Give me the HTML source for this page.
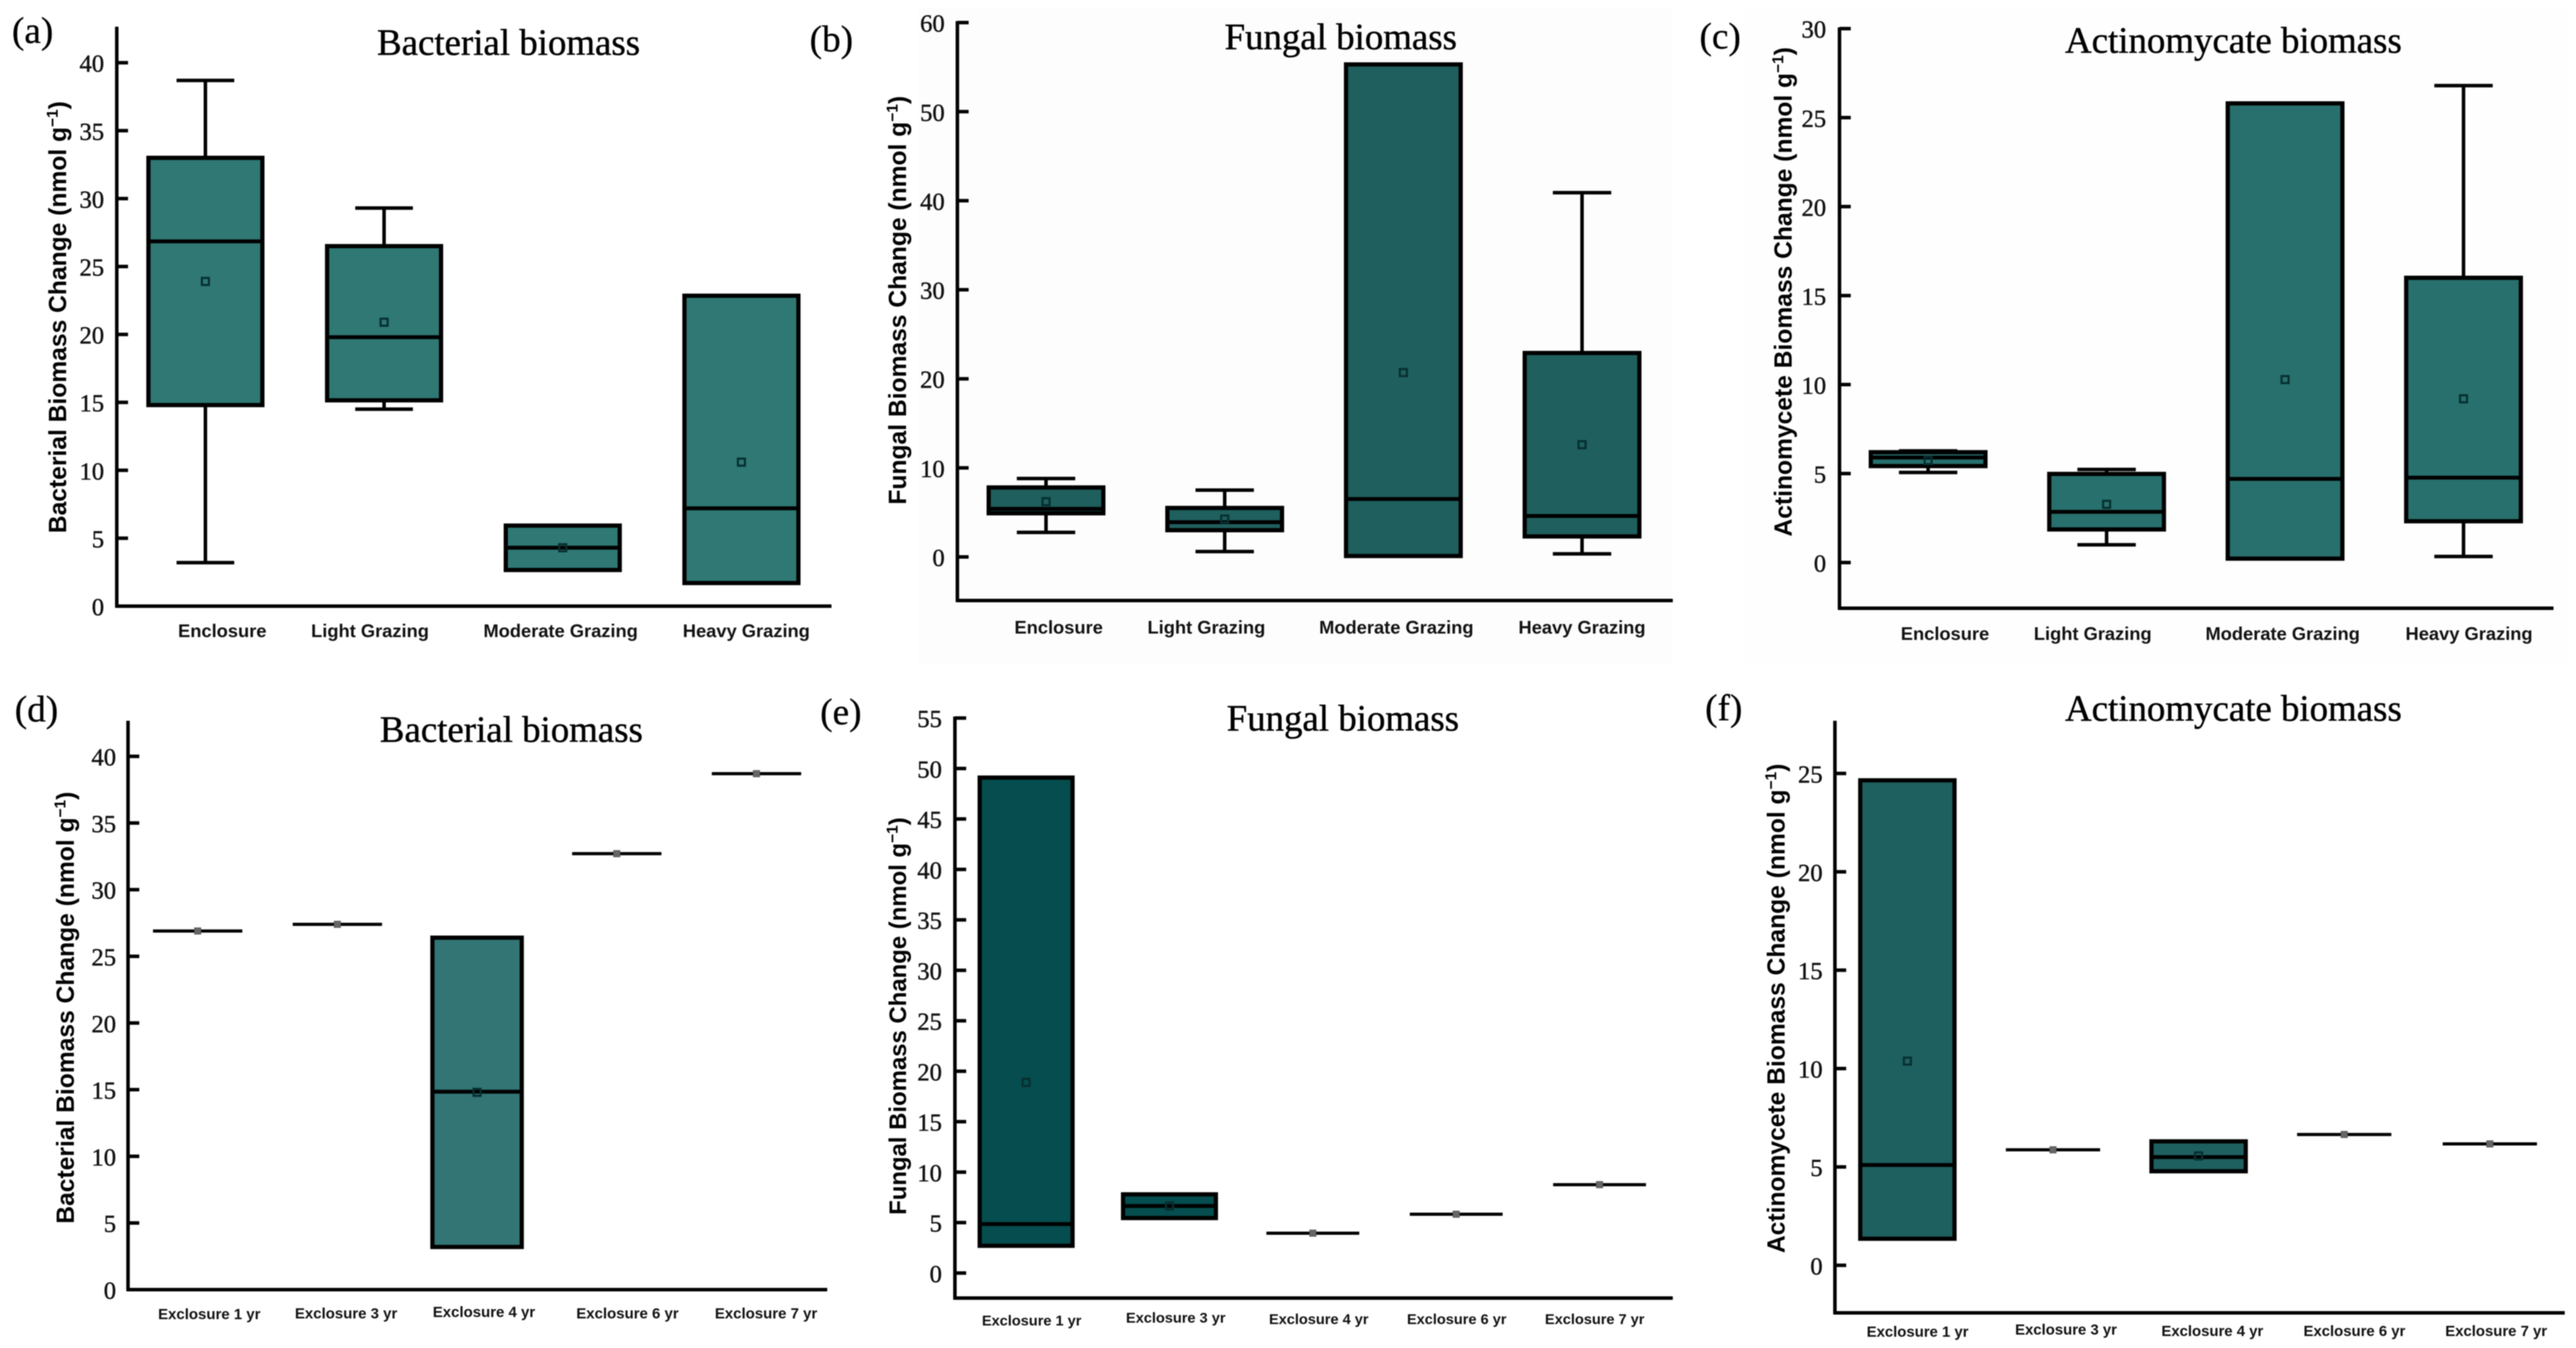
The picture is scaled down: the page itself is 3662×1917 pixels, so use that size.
<!DOCTYPE html>
<html lang="en">
<head>
<meta charset="utf-8">
<title>Soil microbial biomass change under grazing and exclosure</title>
<style>
  html, body { margin: 0; padding: 0; background: #fff; }
  #figure { display: block; width: 3662px; height: 1917px; filter: blur(0.7px); }
  .panel-letter { font-family: "Liberation Serif", serif; font-size: 53px; fill: #000; stroke: #000; stroke-width: 0.4px; }
  .panel-title { font-family: "Liberation Serif", serif; font-size: 52.4px; fill: #000; text-anchor: middle; stroke: #000; stroke-width: 0.6px; }
  .y-title { font-family: "Liberation Sans", sans-serif; font-weight: bold; font-size: 35px; fill: #000; text-anchor: middle; }
  .y-tick-label { font-family: "Liberation Serif", serif; font-size: 35px; fill: #111; text-anchor: end; stroke: #111; stroke-width: 0.6px; }
  .x-label { font-family: "Liberation Sans", sans-serif; font-weight: bold; fill: #111; text-anchor: middle; }
</style>
</head>
<body>
<svg id="figure" xmlns="http://www.w3.org/2000/svg" width="3662" height="1917" viewBox="0 0 3662 1917">
  <rect width="3662" height="1917" fill="#ffffff"/>
  <rect x="1306" y="10" width="1072" height="935" fill="#fdfdfd"/>
  <rect x="2480" y="10" width="1170" height="935" fill="#fdfefd"/>

  <g id="panel-a">
    <text class="panel-letter" x="17" y="61">(a)</text>
    <text class="panel-title" x="723" y="78">Bacterial biomass</text>
    <text class="y-title" transform="translate(94 451) rotate(-90)">Bacterial Biomass Change (nmol g<tspan font-size="22" dy="-12">−1</tspan><tspan dy="12">)</tspan></text>
  </g>
  <g id="panel-b">
    <text class="panel-letter" x="1151" y="73">(b)</text>
    <text class="panel-title" x="1906" y="70">Fungal biomass</text>
    <text class="y-title" transform="translate(1288 427) rotate(-90)">Fungal Biomass Change  (nmol g<tspan font-size="22" dy="-12">−1</tspan><tspan dy="12">)</tspan></text>
  </g>
  <g id="panel-c">
    <text class="panel-letter" x="2416" y="69">(c)</text>
    <text class="panel-title" x="3175" y="75">Actinomycate biomass</text>
    <text class="y-title" transform="translate(2547 415) rotate(-90)">Actinomycete Biomass Change (nmol g<tspan font-size="22" dy="-12">−1</tspan><tspan dy="12">)</tspan></text>
  </g>
  <g id="panel-d">
    <text class="panel-letter" x="21" y="1026">(d)</text>
    <text class="panel-title" x="727" y="1055">Bacterial biomass</text>
    <text class="y-title" transform="translate(105 1433) rotate(-90)">Bacterial Biomass Change (nmol g<tspan font-size="22" dy="-12">−1</tspan><tspan dy="12">)</tspan></text>
  </g>
  <g id="panel-e">
    <text class="panel-letter" x="1166" y="1030">(e)</text>
    <text class="panel-title" x="1909" y="1039">Fungal biomass</text>
    <text class="y-title" style="font-size:34px" transform="translate(1288 1445) rotate(-90)">Fungal Biomass Change (nmol g<tspan font-size="22" dy="-12">−1</tspan><tspan dy="12">)</tspan></text>
  </g>
  <g id="panel-f">
    <text class="panel-letter" x="2424" y="1024">(f)</text>
    <text class="panel-title" x="3175" y="1025">Actinomycate biomass</text>
    <text class="y-title" transform="translate(2537 1434) rotate(-90)">Actinomycete Biomass Change (nmol g<tspan font-size="22" dy="-12">−1</tspan><tspan dy="12">)</tspan></text>
  </g>
</svg>
<script>
// ---- Chart data ----
const grazingCategories = ['Enclosure', 'Light Grazing', 'Moderate Grazing', 'Heavy Grazing'];
const exclosureCategories = ['Exclosure 1 yr', 'Exclosure 3 yr', 'Exclosure 4 yr', 'Exclosure 6 yr', 'Exclosure 7 yr'];

const aTicks = [0, 5, 10, 15, 20, 25, 30, 35, 40];
const aWhiskerHigh = [38.7, 29.3, 5.93, 22.85];
const aQ3 = [33.0, 26.5, 5.93, 22.85];
const aMedian = [26.85, 19.8, 4.3, 7.2];
const aQ1 = [14.8, 15.15, 2.66, 1.7];
const aWhiskerLow = [3.2, 14.5, 2.66, 1.7];
const aMean = [23.9, 20.9, 4.3, 10.6];

const bTicks = [0, 10, 20, 30, 40, 50, 60];
const bWhiskerHigh = [8.8, 7.5, 55.3, 40.9];
const bQ3 = [7.8, 5.5, 55.3, 22.9];
const bMedian = [5.4, 3.9, 6.5, 4.6];
const bQ1 = [4.9, 3.0, 0.1, 2.3];
const bWhiskerLow = [2.75, 0.6, 0.1, 0.35];
const bMean = [6.2, 4.25, 20.7, 12.6];

const cTicks = [0, 5, 10, 15, 20, 25, 30];
const cWhiskerHigh = [6.27, 5.23, 25.8, 26.8];
const cQ3 = [6.2, 4.98, 25.8, 16.0];
const cMedian = [5.9, 2.85, 4.7, 4.77];
const cQ1 = [5.42, 1.86, 0.22, 2.32];
const cWhiskerLow = [5.06, 1.0, 0.22, 0.34];
const cMean = [5.73, 3.27, 10.28, 9.2];

const dTicks = [0, 5, 10, 15, 20, 25, 30, 35, 40];
const dQ3 = [26.9, 27.4, 26.4, 32.7, 38.7];
const dMedian = [26.9, 27.4, 14.85, 32.7, 38.7];
const dQ1 = [26.9, 27.4, 3.2, 32.7, 38.7];
const dMean = [26.9, 27.4, 14.8, 32.7, 38.7];

const eTicks = [0, 5, 10, 15, 20, 25, 30, 35, 40, 45, 50, 55];
const eQ3 = [49.1, 7.8, 3.95, 5.83, 8.76];
const eMedian = [4.85, 6.65, 3.95, 5.83, 8.76];
const eQ1 = [2.7, 5.45, 3.95, 5.83, 8.76];
const eMean = [18.9, 6.65, 3.95, 5.83, 8.76];

const fTicks = [0, 5, 10, 15, 20, 25];
const fQ3 = [24.65, 5.87, 6.3, 6.65, 6.17];
const fMedian = [5.1, 5.87, 5.5, 6.65, 6.17];
const fQ1 = [1.35, 5.87, 4.78, 6.65, 6.17];
const fMean = [10.38, 5.87, 5.56, 6.65, 6.17];

const SVG_NS = 'http://www.w3.org/2000/svg';

function shape(parent, tag, attrs) {
  const node = document.createElementNS(SVG_NS, tag);
  for (const key in attrs) node.setAttribute(key, attrs[key]);
  parent.appendChild(node);
  return node;
}

function strokeLine(parent, x1, y1, x2, y2, width) {
  return shape(parent, 'line', { x1: x1, y1: y1, x2: x2, y2: y2, stroke: '#000', 'stroke-width': width });
}

function drawPanel(p) {
  const root = document.getElementById('panel-' + p.id);
  // Axis functions: value -> pixel and category index -> pixel
  const yScale = v => p.y0 - (v - p.v0) * p.pxPerUnit;
  const xScale = i => p.firstX + i * p.stepX;
  const halfBox = p.boxWidth / 2;
  const halfCap = p.capWidth / 2;

  const axisY = strokeLine(root, p.axisX, p.axisTop - 2, p.axisX, p.axisBottom + 2, 5);
  
  
  const axisX = strokeLine(root, p.axisX - 2, p.axisBottom, p.axisRight, p.axisBottom, 5);
  
  

  p.ticks.forEach(t => {
    const y = yScale(t);
    const tick = strokeLine(root, p.axisX, y, p.axisX + 16, y, 5);
    
    
    const label = shape(root, 'text', { class: 'y-tick-label', x: p.tickRight, y: y + 13 });
    label.textContent = String(t);
    
    
  });

  p.categories.forEach((cat, i) => {
    const cx = xScale(i);
    const slug = cat.toLowerCase().replace(/\s+/g, '-');
    const group = shape(root, 'g', {});
    
    

    const q3 = yScale(p.q3[i]);
    const q1 = yScale(p.q1[i]);
    const med = yScale(p.median[i]);
    const flat = p.q3[i] === p.q1[i];

    if (p.whiskerHigh && p.whiskerHigh[i] > p.q3[i]) {
      const top = yScale(p.whiskerHigh[i]);
      const stem = strokeLine(group, cx, top, cx, q3, 5);
      
      
      const cap = strokeLine(group, cx - halfCap, top, cx + halfCap, top, 5);
      
      
    }
    if (p.whiskerLow && p.whiskerLow[i] < p.q1[i]) {
      const low = yScale(p.whiskerLow[i]);
      const stem = strokeLine(group, cx, q1, cx, low, 5);
      
      
      const cap = strokeLine(group, cx - halfCap, low, cx + halfCap, low, 5);
      
      
    }
    if (!flat) {
      const box = shape(group, 'rect', {
        x: cx - halfBox, y: q3, width: p.boxWidth, height: q1 - q3,
        fill: p.fill, stroke: '#000', 'stroke-width': 6
      });
      
      
    }
    const medianLine = strokeLine(group, cx - halfBox, med, cx + halfBox, med, flat ? 4.5 : 5.5);
    
    

    const size = flat ? 9 : 10;
    const mean = shape(group, 'rect', {
      x: cx - size / 2, y: yScale(p.mean[i]) - size / 2, width: size, height: size,
      fill: flat ? '#666' : 'none', stroke: flat ? '#555' : '#062f30', 'stroke-width': flat ? 1 : 3
    });
    
    

    const xLabel = shape(root, 'text', {
      class: 'x-label', x: p.labelX[i], y: p.labelBaseline + p.labelDrop[i], 'font-size': p.labelSize
    });
    xLabel.textContent = cat;
    
    
  });
}

// ---- Layout (pixels) and data wiring for each panel ----
drawPanel({
  id: 'a', categories: grazingCategories, ticks: aTicks,
  whiskerHigh: aWhiskerHigh, q3: aQ3, median: aMedian, q1: aQ1, whiskerLow: aWhiskerLow, mean: aMean,
  axisX: 166, axisTop: 40, axisBottom: 862, axisRight: 1182, tickRight: 148,
  v0: 0, y0: 862, pxPerUnit: 19.32, firstX: 292, stepX: 254, boxWidth: 162, capWidth: 82,
  fill: '#2f7874', labelX: [316, 526, 797, 1061], labelBaseline: 906, labelDrop: [0, 0, 0, 0], labelSize: 26
});
drawPanel({
  id: 'b', categories: grazingCategories, ticks: bTicks,
  whiskerHigh: bWhiskerHigh, q3: bQ3, median: bMedian, q1: bQ1, whiskerLow: bWhiskerLow, mean: bMean,
  axisX: 1361, axisTop: 32, axisBottom: 854, axisRight: 2378, tickRight: 1343,
  v0: 0, y0: 792, pxPerUnit: 12.665, firstX: 1487, stepX: 254, boxWidth: 163, capWidth: 83,
  fill: '#1f5f5e', labelX: [1505, 1715, 1985, 2249], labelBaseline: 901, labelDrop: [0, 0, 0, 0], labelSize: 26
});
drawPanel({
  id: 'c', categories: grazingCategories, ticks: cTicks,
  whiskerHigh: cWhiskerHigh, q3: cQ3, median: cMedian, q1: cQ1, whiskerLow: cWhiskerLow, mean: cMean,
  axisX: 2615, axisTop: 41, axisBottom: 865, axisRight: 3630, tickRight: 2596,
  v0: 0, y0: 800, pxPerUnit: 25.31, firstX: 2741, stepX: 253.7, boxWidth: 163, capWidth: 83,
  fill: '#28706d', labelX: [2765, 2975, 3245, 3510], labelBaseline: 910, labelDrop: [0, 0, 0, 0], labelSize: 26
});
drawPanel({
  id: 'd', categories: exclosureCategories, ticks: dTicks,
  q3: dQ3, median: dMedian, q1: dQ1, mean: dMean,
  axisX: 182, axisTop: 1027, axisBottom: 1834, axisRight: 1176, tickRight: 165,
  v0: 0, y0: 1834, pxPerUnit: 18.96, firstX: 281, stepX: 198.6, boxWidth: 127, capWidth: 60,
  fill: '#327574', labelX: [297.5, 492, 688, 892, 1089], labelBaseline: 1875, labelDrop: [1, 0, -2, 0, 0], labelSize: 21.3
});
drawPanel({
  id: 'e', categories: exclosureCategories, ticks: eTicks,
  q3: eQ3, median: eMedian, q1: eQ1, mean: eMean,
  axisX: 1357.5, axisTop: 1021, axisBottom: 1846, axisRight: 2378, tickRight: 1339,
  v0: 0, y0: 1810.4, pxPerUnit: 14.35, firstX: 1458.7, stepX: 203.8, boxWidth: 132, capWidth: 60,
  fill: '#054d4e', labelX: [1466.6, 1671.4, 1874.7, 2070.8, 2267], labelBaseline: 1883, labelDrop: [2, -2, 0, 0, 0], labelSize: 20.7
});
drawPanel({
  id: 'f', categories: exclosureCategories, ticks: fTicks,
  q3: fQ3, median: fMedian, q1: fQ1, mean: fMean,
  axisX: 2608.5, axisTop: 1027, axisBottom: 1867, axisRight: 3646, tickRight: 2591,
  v0: 0, y0: 1799.4, pxPerUnit: 27.98, firstX: 2711.5, stepX: 207, boxWidth: 134, capWidth: 60,
  fill: '#1e605f', labelX: [2726, 2937, 3145, 3347, 3548.5], labelBaseline: 1900, labelDrop: [1, -2, 0, 0, 0], labelSize: 21.2
});
</script>
</body>
</html>
